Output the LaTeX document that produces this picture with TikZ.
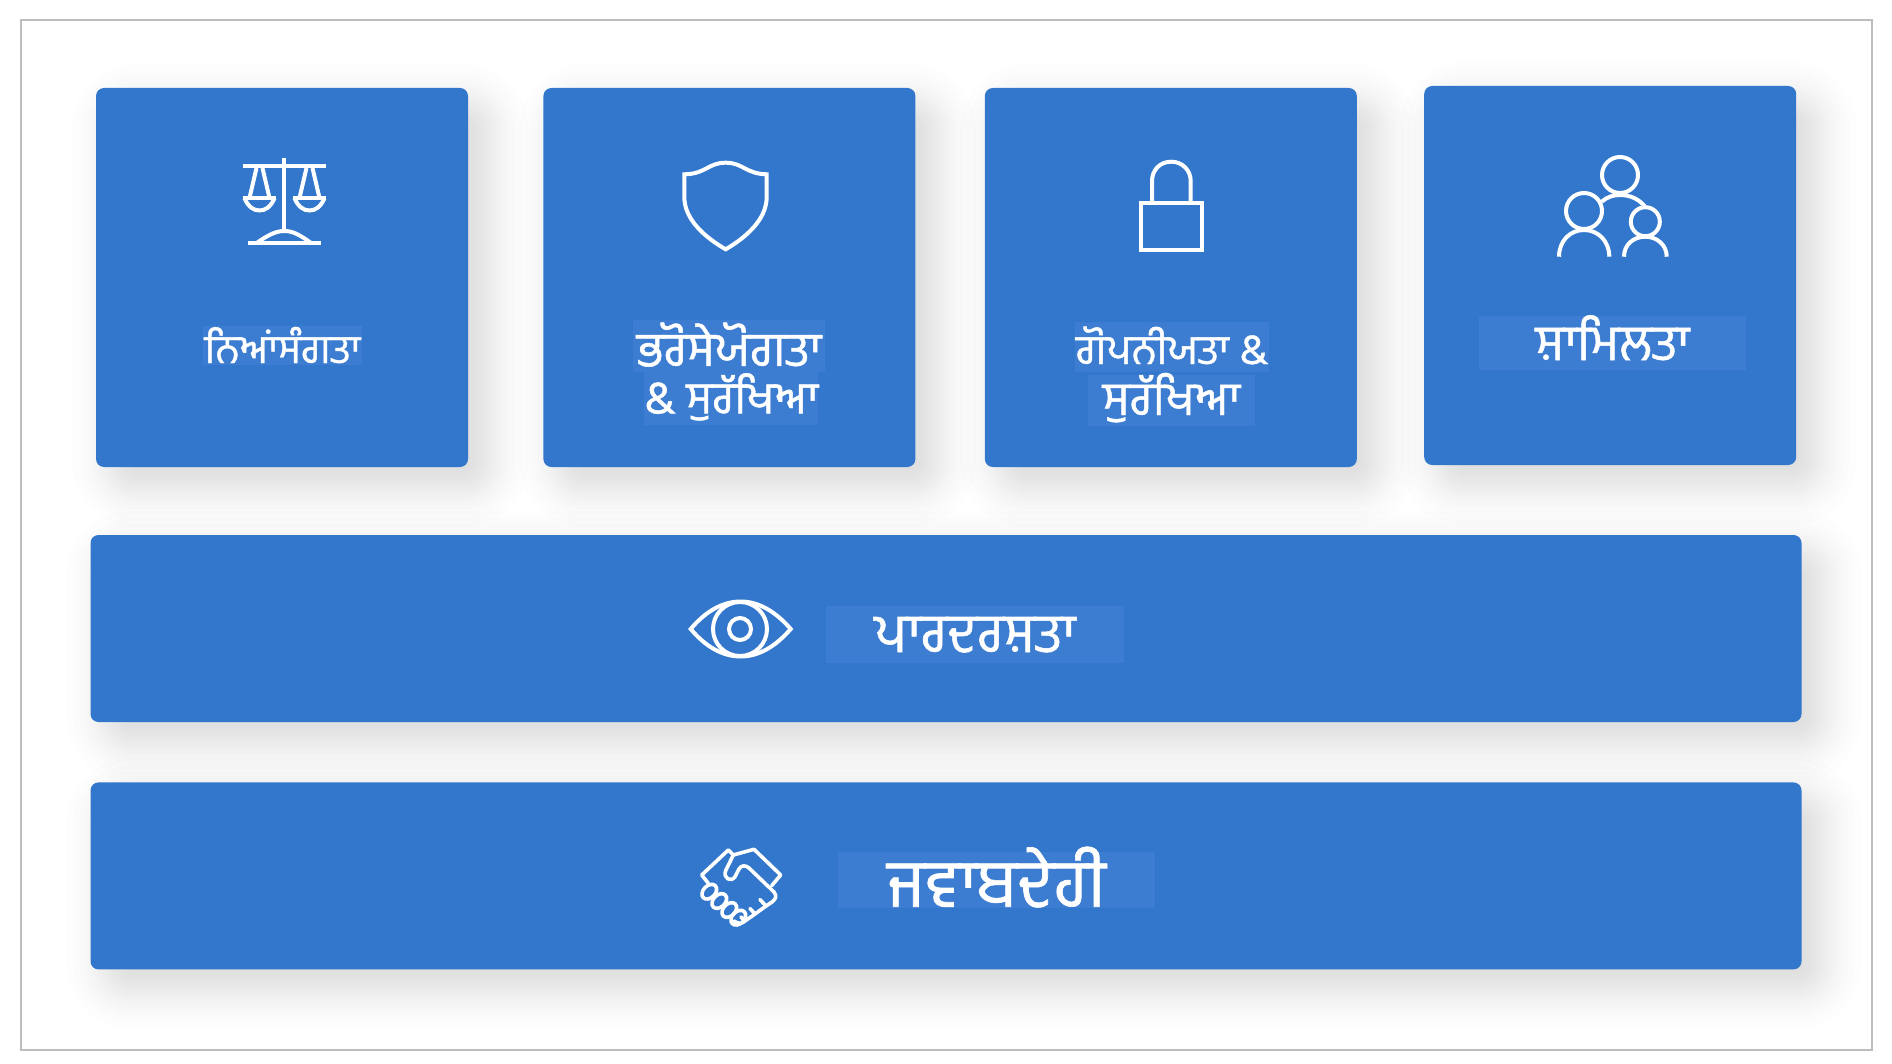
\documentclass[tikz,border=0pt]{standalone}
\usepackage{fontspec}
\usetikzlibrary{backgrounds,positioning}
\newfontfamily\gurmukhi[Script=Gurmukhi,FakeBold=1]{Hind Jalandhar}
\newcommand{\gsize}[1]{\gurmukhi\fontsize{#1}{#1}\selectfont}
\definecolor{tileblue}{HTML}{3277CC}
\definecolor{patchblue}{HTML}{3D7DD1}
\definecolor{framegray}{HTML}{BDBDBD}

\begin{document}
\begin{tikzpicture}[x=1pt,y=-1pt]
	\tikzstyle{tile} = [fill=tileblue, rectangle, rounded corners=8pt, inner sep=0pt, minimum width=372pt, minimum height=379pt]
	\tikzstyle{band} = [tile, minimum width=1711pt, minimum height=187pt]
	\tikzstyle{patch} = [fill=patchblue, rectangle, inner sep=0pt, text=white]
	\tikzstyle{icon} = [draw=white, line width=4pt]
	\tikzstyle{softshade} = [fill=black, fill opacity=0.0095]

	\useasboundingbox (0,0) rectangle (1892,1064);
	\node [draw=framegray, line width=2.6pt, rectangle, inner sep=0pt, minimum width=1851pt, minimum height=1030pt] (frame) at (946.5,535) {};

	\node [tile] (fairness) at (282,277.5) {};
	\node [tile, right = 75pt of fairness] (trust) {};
	\node [tile, right = 69pt of trust] (privacy) {};
	\node [tile, right = 67pt of privacy, yshift=2pt] (inclusion) {};
	\node [band] (transparency) at (946,628.5) {};
	\node [band, below = 60pt of transparency] (accountability) {};

	% soft shadows under the tiles
	\begin{scope}[on background layer]
		\foreach \tilename in {fairness,trust,privacy,inclusion,transparency,accountability}
			\foreach \r in {-20,-16,-12,-8,-5,-2,1,4,7,10,13,16,20,24,29,35,42}
				\fill [softshade, rounded corners=24pt+\r pt] ([shift={(18-\r,18-\r)}]\tilename.north west) rectangle ([shift={(18+\r,18+\r)}]\tilename.south east);
	\end{scope}

	% labels on their lighter patches
	\node [patch, minimum width=159pt, text height=37pt, text depth=2pt, font=\gsize{40}] (fairnesstext) at (282.5,345.5) {ਨਿਆਂਸੰਗਤਾ};
	\node [patch, minimum width=192pt, text height=46pt, text depth=6pt, font=\gsize{48}] (trusttext) at (729,346) {ਭਰੋਸੇਯੋਗਤਾ};
	\node [patch, minimum width=170pt, text height=41.5pt, text depth=11.5pt, font=\gsize{45}] (trusttexttwo) at (731,398.5) {\& ਸੁਰੱਖਿਆ};
	\node [patch, minimum width=194pt, text height=42pt, text depth=8pt, font=\gsize{41.5}] (privacytext) at (1172,347) {ਗੋਪਨੀਯਤਾ \&};
	\node [patch, minimum width=167pt, text height=40pt, text depth=11pt, font=\gsize{47}] (privacytexttwo) at (1171.5,400.5) {ਸੁਰੱਖਿਆ};
	\node [patch, minimum width=267pt, text height=44pt, text depth=10pt, font=\gsize{50}] (inclusiontext) at (1612.5,343) {ਸ਼ਾਮਿਲਤਾ};
	\node [patch, minimum width=298pt, text height=46pt, text depth=11pt, font=\gsize{54.5}] (transparencytext) at (975,634.5) {ਪਾਰਦਰਸ਼ਤਾ};
	\node [patch, minimum width=317pt, text height=54.7pt, text depth=1.3pt, font=\gsize{67}] (accountabilitytext) at (996.5,880) {ਜਵਾਬਦੇਹੀ};

	% scales
	\draw [icon] (243,166) -- (326,166);
	\draw [icon] (284.3,158) -- (284.3,231);
	\draw [icon] (248,243) -- (321,243);
	\draw [icon] (256.7,243) .. controls (268,235) and (276,231) .. (284.3,231) .. controls (293,231) and (300,235) .. (311,243);
	\foreach \panx in {259.5,309.5} {
		\draw [icon] (\panx-3,168) -- (\panx-10,198);
		\draw [icon] (\panx+3,168) -- (\panx+10,198);
		\draw [icon] (\panx-16.5,198.3) -- (\panx+16.5,198.3);
		\draw [icon] (\panx-15,198.3) .. controls (\panx-11,207) and (\panx-6,210.5) .. (\panx,210.5) .. controls (\panx+6,210.5) and (\panx+11,207) .. (\panx+15,198.3);
	}

	% shield
	\draw [icon, line join=miter] (684.3,174.3) .. controls (706,174) and (708,162.7) .. (725.7,162.7) .. controls (743,162.7) and (746,174) .. (766.7,174.3) -- (766.7,197) .. controls (766.7,220) and (745,238) .. (725.7,249.3) .. controls (706,238) and (684.3,220) .. (684.3,197) -- cycle;

	% lock
	\draw [icon] (1141,202.7) rectangle (1202.3,250.3);
	\draw [icon] (1152,202.7) -- (1152,181) .. controls (1152,170) and (1160,161.7) .. (1171.3,161.7) .. controls (1182,161.7) and (1190.7,170) .. (1190.7,181) -- (1190.7,202.7);

	% people
	\draw [icon] (1620,175) circle [radius=18];
	\draw [icon] (1584,211) circle [radius=18];
	\draw [icon] (1645.3,221.7) circle [radius=14.5];
	\draw [icon] (1559,256.7) .. controls (1559,241) and (1570,230) .. (1584,230) .. controls (1598,230) and (1609.3,241) .. (1609.3,256.7);
	\draw [icon] (1624,256.7) .. controls (1624,245) and (1633,236.7) .. (1645.3,236.7) .. controls (1657,236.7) and (1666.7,245) .. (1666.7,256.7);
	\draw [icon] (1601.7,201.7) .. controls (1607,197) and (1613,195) .. (1620,195) .. controls (1630,195) and (1639,199) .. (1645,206.7);

	% eye
	\draw [icon, line join=miter] (690.7,629) .. controls (705,612) and (722,601.5) .. (740.7,601.5) .. controls (759,601.5) and (776,612) .. (790.7,629) .. controls (776,646) and (759,656.5) .. (740.7,656.5) .. controls (722,656.5) and (705,646) .. (690.7,629) -- cycle;
	\draw [icon] (740,629) circle [radius=27];
	\draw [icon] (740,629) circle [radius=11];

	% handshake
	\draw [icon, line width=3.6pt, line join=round, line cap=round] (708.3,883.3) -- (701.7,875) -- (728.3,850) -- (733.3,855) -- (754,849.3) -- (780.7,875) -- (771.7,885.7);
	\draw [icon, line width=3.6pt, line join=round, line cap=round] (733.3,855) -- (725.5,871) .. controls (723,878) and (731,883) .. (735,876.7) -- (739,869) .. controls (741,865) and (746,865) .. (749,868) -- (774,892) .. controls (777,896) and (776,899) .. (772,902) -- (766,906) -- (760,899.5);
	\draw [icon, line width=3.6pt, line join=round, line cap=round] (766,906) -- (755,914) -- (750,908.5);
	\draw [icon, line width=3.6pt, line join=round, line cap=round] (755,914) -- (745,921) -- (741,917);
	\draw [icon, line width=3.6pt, line join=round, line cap=round] (745,921) .. controls (742,924) and (738,924) .. (734,921);
	\foreach \fingerx/\fingery in {709.3/891.7,719.3/901,729.3/910,738.3/917.7}
		\draw [icon, line width=3.6pt, rotate around={45:(\fingerx,\fingery)}] (\fingerx,\fingery) ellipse [x radius=8.5, y radius=6];
\end{tikzpicture}
\end{document}
